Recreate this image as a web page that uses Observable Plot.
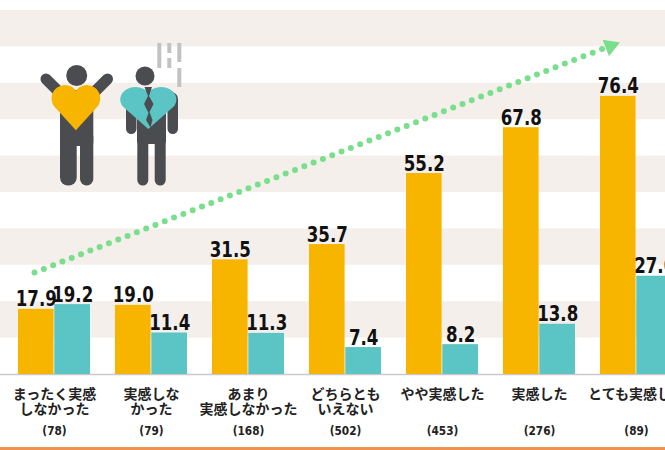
<!DOCTYPE html>
<html>
<head>
<meta charset="utf-8">
<script src="https://cdn.jsdelivr.net/npm/d3@7"></script>
<script src="https://cdn.jsdelivr.net/npm/@observablehq/plot@0.6"></script>
<style>
  html, body { margin: 0; padding: 0; background: #fff; overflow: hidden; }
  #wrap { position: relative; width: 665px; height: 450px; overflow: hidden; }
  #wrap svg.plot { display: block; }
  #bottomline { position: absolute; left: 0; top: 447px; width: 665px; height: 3px; background: #F0924F; }
  #icons { position: absolute; left: 0; top: 0; pointer-events: none; }
</style>
</head>
<body>
<div id="wrap"></div>
<script>
const categories = [
  "まったく実感\nしなかった",
  "実感しな\nかった",
  "あまり\n実感しなかった",
  "どちらとも\nいえない",
  "やや実感した",
  "実感した",
  "とても実感した"
];
const counts = [78, 79, 168, 502, 453, 276, 89];
const seriesA = [17.9, 19.0, 31.5, 35.7, 55.2, 67.8, 76.4]; // orange
const seriesB = [19.2, 11.4, 11.3, 7.4, 8.2, 13.8, 27.0];  // teal
const stripeBands = [[10, 20], [30, 40], [50, 60], [70, 80], [90, 100]];
const trend = [{x1: categories[0], y1: 28, x2: categories[6], y2: 91, headY: 90.2}];

const orange = "#F8B500";
const teal = "#5BC4C4";
const green = "#7ADF8C";
const numFont = "'Liberation Sans Narrow', 'DejaVu Sans Condensed', 'Roboto', sans-serif";
const jpFont = "'Noto Sans CJK JP', sans-serif";

const rowsA = categories.map((c, i) => ({cat: c, v: seriesA[i]}));
const rowsB = categories.map((c, i) => ({cat: c, v: seriesB[i]}));
const countOf = new Map(categories.map((c, i) => [c, counts[i]]));

const chart = Plot.plot({
  width: 665,
  height: 447,
  marginTop: 10,
  marginBottom: 73,
  marginLeft: 0,
  marginRight: 0,
  x: {type: "band", domain: categories, range: [18, 675.1], paddingInner: 0.2536, paddingOuter: 0, align: 0, axis: null},
  y: {domain: [0, 100], axis: null},
  marks: [
    Plot.rect(stripeBands, {y1: d => d[0], y2: d => d[1], fill: "#F4EFEB"}),
    Plot.ruleY([0], {stroke: "#C9C9C9", strokeWidth: 1.5}),
    Plot.barY(rowsA, {x: "cat", y: "v", fill: orange, insetRight: 36.4}),
    Plot.barY(rowsB, {x: "cat", y: "v", fill: teal, insetLeft: 36.3}),
    Plot.text(rowsA, {x: "cat", y: "v", text: d => d.v.toFixed(1), dx: -18.2, dy: -3, lineAnchor: "bottom",
      fontFamily: numFont, fontWeight: "bold", fontSize: 22, fill: "#111", className: "vlabel"}),
    Plot.text(rowsB, {x: "cat", y: "v", text: d => d.v.toFixed(1), dx: 18.2, dy: -3, lineAnchor: "bottom",
      fontFamily: numFont, fontWeight: "bold", fontSize: 22, fill: "#111", className: "vlabel"}),
    Plot.link(trend, {x1: "x1", y1: "y1", x2: "x2", y2: "y2", dx: -20, stroke: green, strokeWidth: 6,
      strokeLinecap: "round", strokeDasharray: "0 10"}),
    Plot.dot(trend, {x: "x2", y: "headY", dx: -26, symbol: "triangle", r: 6.5, fill: green, stroke: "none", rotate: 68.6}),
    Plot.axisX({tickSize: 0, tickPadding: 13, fontSize: 14, fontWeight: 700, fontFamily: jpFont, fill: "#222", lineHeight: 1.12}),
    Plot.axisX({tickSize: 0, tickPadding: 51, fontSize: 13, fontWeight: 700, fontFamily: numFont, fill: "#222",
      className: "clabel", tickFormat: d => `(${countOf.get(d)})`})
  ]
});
document.getElementById("wrap").appendChild(chart);

// condense the number labels to match the narrow numeric face of the original
chart.querySelectorAll(".vlabel text").forEach(t => {
  const len = t.getComputedTextLength();
  t.setAttribute("textLength", (len * 0.84).toFixed(1));
  t.setAttribute("lengthAdjust", "spacingAndGlyphs");
});
chart.querySelectorAll(".clabel text").forEach(t => {
  const len = t.getComputedTextLength();
  t.setAttribute("textLength", (len * 0.9).toFixed(1));
  t.setAttribute("lengthAdjust", "spacingAndGlyphs");
});

// decorative pictogram (two figures with hearts)
const icons = `
<svg id="icons" width="665" height="450" xmlns="http://www.w3.org/2000/svg">
  <g fill="#4A4C50">
    <circle cx="76.7" cy="75.5" r="10.5"/>
    <line x1="46" y1="79" x2="63" y2="96" stroke="#4A4C50" stroke-width="11" stroke-linecap="round"/>
    <line x1="107.5" y1="79" x2="90.5" y2="96" stroke="#4A4C50" stroke-width="11" stroke-linecap="round"/>
    <rect x="60" y="90" width="33.3" height="56" rx="4"/>
    <rect x="60" y="130" width="16.7" height="55.5" rx="8"/>
    <rect x="80" y="130" width="13.3" height="55.5" rx="6.5"/>
  </g>
  <path d="M50,92 L8,46 A24,24 0 0 1 50,16 A24,24 0 0 1 92,46 Z" fill="${orange}" transform="translate(49.9,82.4) scale(0.52)"/>
  <g fill="#4A4C50">
    <circle cx="145" cy="76" r="9.5"/>
    <rect x="126" y="92" width="52" height="18" rx="7"/>
    <rect x="126" y="96" width="10.5" height="38" rx="5.2"/>
    <rect x="167.5" y="96" width="10.5" height="38" rx="5.2"/>
    <rect x="137" y="92" width="29" height="52" rx="3"/>
    <rect x="137.3" y="130" width="11" height="55.5" rx="5.5"/>
    <rect x="154.7" y="130" width="11" height="55.5" rx="5.5"/>
  </g>
  <path d="M50,92 L8,46 A24,24 0 0 1 50,16 A24,24 0 0 1 92,46 Z" fill="${teal}" transform="translate(118.3,84.5) scale(0.6,0.485)"/>
  <polygon fill="#4A4C50" points="144.5,87 152,87 149,96 153.5,104 149.5,112 152.5,120 150.5,127.5 146,120 148.5,113 144,104 148,96"/>
  <g stroke="#C2C2C2" stroke-width="4">
    <line x1="159.3" y1="43" x2="159.3" y2="68"/>
    <line x1="169.3" y1="43" x2="169.3" y2="53"/>
    <line x1="169.3" y1="58" x2="169.3" y2="68"/>
    <line x1="179.3" y1="43" x2="179.3" y2="62"/>
    <line x1="179.3" y1="68" x2="179.3" y2="87"/>
  </g>
</svg>`;
document.getElementById("wrap").insertAdjacentHTML("beforeend", icons);
const line = document.createElement("div");
line.id = "bottomline";
document.getElementById("wrap").appendChild(line);
</script>
</body>
</html>
